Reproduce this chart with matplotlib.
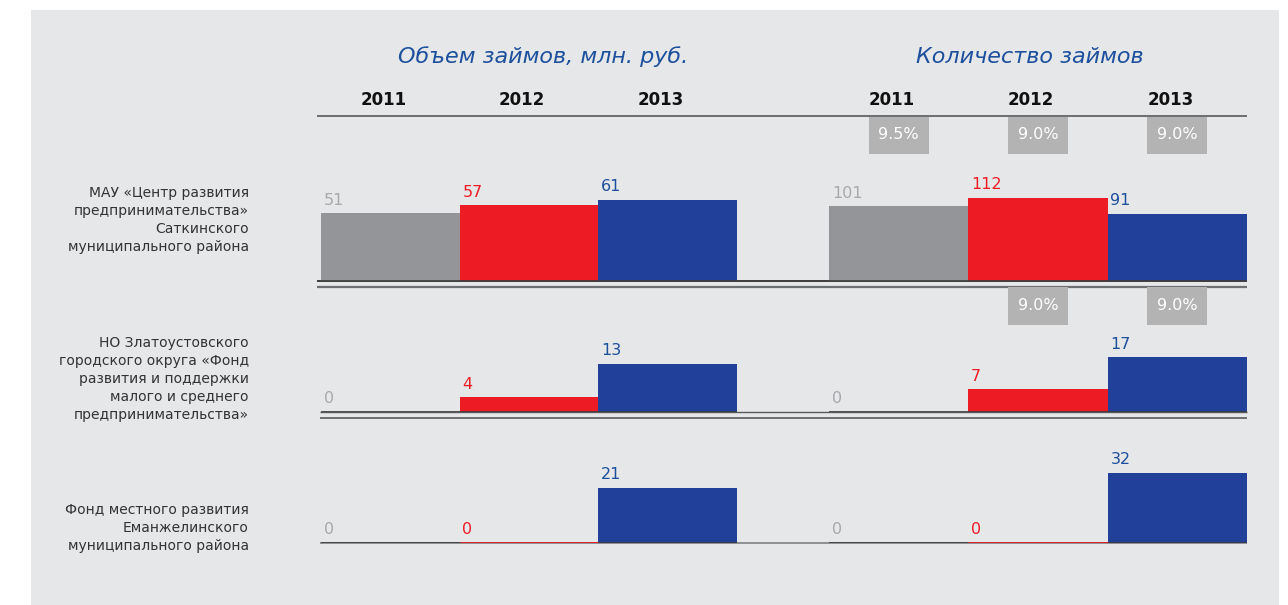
"""Loans by fund: volume and count for 2011-2013, two panels side by side."""

import matplotlib

matplotlib.use("Agg")
import matplotlib.pyplot as plt
from matplotlib.lines import Line2D
from matplotlib.patches import Rectangle
from matplotlib.transforms import blended_transform_factory

# --- data ---------------------------------------------------------------
years = ["2011", "2012", "2013"]

fund_labels = [
    "МАУ «Центр развития\nпредпринимательства»\nСаткинского\nмуниципального района",
    "НО Златоустовского\nгородского округа «Фонд\nразвития и поддержки\nмалого и среднего\nпредпринимательства»",
    "Фонд местного развития\nЕманжелинского\nмуниципального района",
]

volume_satka = [51, 57, 61]
volume_zlat = [0, 4, 13]
volume_eman = [0, 0, 21]

count_satka = [101, 112, 91]
count_zlat = [0, 7, 17]
count_eman = [0, 0, 32]

rate_satka = ["9.5%", "9.0%", "9.0%"]
rate_zlat = ["", "9.0%", "9.0%"]

titles = ["Объем займов, млн. руб.", "Количество займов"]

# --- style --------------------------------------------------------------
W, H = 1288, 605
BAR_COLORS = ["#939598", "#ED1C24", "#21409A"]
TEXT_COLORS = ["#A7A9AC", "#ED1C24", "#1C4F9C"]
PANEL_BG = "#E6E7E9"
BOX_GRAY = "#B3B3B3"

fig = plt.figure(figsize=(W / 100, H / 100), dpi=100)
fig.patch.set_facecolor("white")


def fx(x):
    return x / W


def fy(y):
    return 1 - y / H


def add_axes_px(x0, y_top, x1, y_bottom):
    return fig.add_axes([fx(x0), fy(y_bottom), (x1 - x0) / W, (y_bottom - y_top) / H])


def hline_px(y, x0, x1, color, lw):
    # drawn beneath the axes so the bars sit on top of the rules
    fig.add_artist(Line2D([fx(x0), fx(x1)], [fy(y), fy(y)], color=color, lw=lw,
                          transform=fig.transFigure, solid_capstyle="butt", zorder=-5))


# light gray panel behind everything
fig.add_artist(Rectangle((fx(31), 0), fx(1279) - fx(31), fy(10), transform=fig.transFigure,
                         facecolor=PANEL_BG, edgecolor="none", zorder=-10))

# panel extents in pixels and row baselines
panel_x = [(321, 737), (829, 1247)]
baselines = [281, 412, 543]
# ylim tops per row for (volume, count) panels
ylim_tops = [(75.3, 135.0), (27.0, 31.0), (38.2, 45.7)]

rows = [
    (volume_satka, count_satka),
    (volume_zlat, count_zlat),
    (volume_eman, count_eman),
]

# header titles and header rule
title_x = [543, 1030]
for p, xc in enumerate(title_x):
    fig.text(fx(xc), fy(57), titles[p], ha="center", va="center", fontsize=16,
             style="italic", color="#1C4F9C")
hline_px(116, 317, 1247, "#58595B", 1.2)

# separator lines under each row
hline_px(281, 317, 1247, "#231F20", 1.2)
hline_px(287, 317, 1247, "#6D6E71", 1.6)
hline_px(412, 320, 1247, "#58595B", 1.0)
hline_px(418, 320, 1247, "#6D6E71", 1.4)
hline_px(543, 320, 1247, "#808285", 1.2)

axes_rows = []
for r, (base, row_vals) in enumerate(zip(baselines, rows)):
    row_axes = []
    for p, (x0, x1) in enumerate(panel_x):
        ax = add_axes_px(x0, base - 100, x1, base)
        ax.set_xlim(0, 3)
        ax.set_ylim(0, ylim_tops[r][p])
        ax.axis("off")
        ax.patch.set_alpha(0)
        vals = row_vals[p]
        ax.bar(range(3), vals, width=1.0, align="edge", color=BAR_COLORS, edgecolor="none")
        ax.hlines(0, 0, 3, color="#3a3a3c", lw=1.2, zorder=3)
        for i, v in enumerate(vals):
            if v == 0 and i > 0:
                ax.hlines(0, i, i + 1, color=BAR_COLORS[i], lw=2.0, zorder=4)
            ax.annotate(str(v), (i, v), xytext=(2, 4), textcoords="offset points",
                        ha="left", va="bottom", fontsize=11.5, color=TEXT_COLORS[i])
        row_axes.append(ax)
    axes_rows.append(row_axes)

# year labels above each panel
for p in range(2):
    ax = axes_rows[0][p]
    tr = blended_transform_factory(ax.transData, fig.transFigure)
    for i, y in enumerate(years):
        ax.text(i + 0.45, fy(100), y, transform=tr, ha="center", va="center",
                fontsize=12, fontweight="bold", color="#111111")


# interest-rate boxes on the count panel
def rate_boxes(ax, rates, y_top, y_bottom):
    tr = blended_transform_factory(ax.transData, fig.transFigure)
    half = 30 * 3 / (panel_x[1][1] - panel_x[1][0])
    for i, s in enumerate(rates):
        if not s:
            continue
        ax.add_artist(Rectangle((i + 0.5 - half, fy(y_bottom)), 2 * half, fy(y_top) - fy(y_bottom),
                                transform=tr, facecolor=BOX_GRAY, edgecolor="none", clip_on=False))
        ax.text(i + 0.5, fy((y_top + y_bottom) / 2 - 1), s, transform=tr, ha="center",
                va="center", fontsize=11.5, color="white", clip_on=False)


rate_boxes(axes_rows[0][1], rate_satka, 117, 154)
rate_boxes(axes_rows[1][1], rate_zlat, 287, 325)

# fund names on the left
label_centers = [220, 379, 528]
for lab, yc in zip(fund_labels, label_centers):
    fig.text(fx(249), fy(yc), lab, ha="right", va="center", fontsize=10,
             color="#333333", linespacing=1.38)

fig.savefig("out.png", dpi=100, facecolor=fig.get_facecolor())
